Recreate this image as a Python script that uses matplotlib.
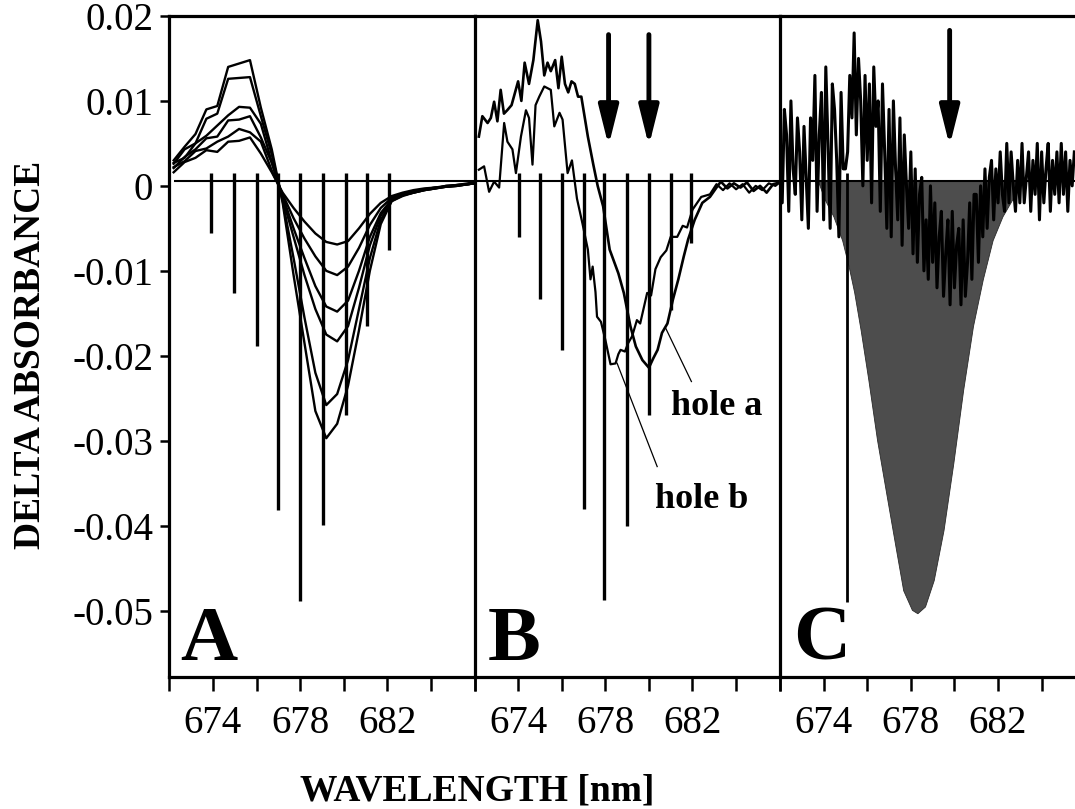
import numpy as np
import matplotlib
matplotlib.use('Agg')
import matplotlib.pyplot as plt

plt.rcParams['font.family'] = ['Liberation Serif', 'DejaVu Serif']

# ===== Panel A: hole series (values in 1e-3 absorbance) =====
wl_a = [672.2, 672.7, 673.2, 673.7, 674.2, 674.7, 675.2, 675.7, 676.2, 676.7,
        677.2, 677.7, 678.2, 678.7, 679.2, 679.7, 680.2, 680.7, 681.2, 681.7,
        682.2, 682.7, 683.2, 683.7, 684.2, 684.7, 685.2, 685.7, 686.0]
curve_a1 = [3.0, 4.6, 6.1, 9.0, 9.4, 14.0, 14.4, 14.8, 9.2, 4.3,
            -2.0, -10.5, -18.5, -26.5, -29.7, -28.0, -23.5, -17.0, -10.0, -4.5,
            -1.8, -1.2, -0.8, -0.5, -0.3, 0.0, 0.1, 0.3, 0.4]
curve_a2 = [2.6, 4.3, 5.0, 7.9, 8.5, 12.6, 12.7, 12.8, 8.2, 3.7,
            -1.8, -8.5, -15.5, -22.0, -25.8, -24.5, -20.5, -14.5, -8.5, -4.0,
            -1.8, -1.1, -0.8, -0.5, -0.3, -0.1, 0.1, 0.2, 0.3]
curve_a3 = [2.7, 3.3, 5.0, 5.9, 7.1, 8.3, 9.3, 9.2, 7.3, 2.8,
            -1.5, -6.0, -10.5, -14.5, -17.5, -18.3, -16.5, -12.0, -7.0, -3.5,
            -1.7, -1.1, -0.8, -0.5, -0.3, -0.1, 0.0, 0.2, 0.3]
curve_a4 = [2.1, 3.4, 4.3, 5.6, 5.8, 7.7, 7.8, 8.2, 5.7, 2.7,
            -1.2, -5.0, -8.5, -11.8, -14.2, -14.8, -13.5, -10.0, -6.0, -3.2,
            -1.6, -1.0, -0.7, -0.4, -0.2, -0.1, 0.0, 0.2, 0.3]
curve_a5 = [2.2, 2.9, 4.1, 4.4, 5.2, 5.8, 6.7, 6.3, 5.2, 1.8,
            -1.0, -3.8, -6.2, -8.3, -10.0, -10.5, -9.5, -7.3, -4.6, -2.6,
            -1.4, -0.9, -0.6, -0.4, -0.2, -0.1, 0.0, 0.2, 0.3]
curve_a6 = [1.6, 2.8, 3.3, 4.2, 4.0, 5.2, 5.3, 5.7, 3.8, 1.6,
            -0.8, -2.6, -4.2, -5.6, -6.6, -6.9, -6.5, -5.0, -3.3, -2.0,
            -1.2, -0.8, -0.5, -0.3, -0.2, 0.0, 0.1, 0.2, 0.3]
curves_a = [curve_a1, curve_a2, curve_a3, curve_a4, curve_a5, curve_a6]

spike_wl_a = [673.9, 674.95, 676.0, 676.97, 678.0, 679.05, 680.1, 681.08, 682.06]
spike_depth_a = [-5.5, -12.6, -18.9, -38.1, -48.9, -39.9, -27.0, -16.5, -7.5]

# ===== Panel B: hole a / hole b =====
wl_hole_a = [672.2, 672.36, 672.6, 672.75, 672.9, 673.05, 673.2, 673.35, 673.5, 673.7,
             674.0, 674.15, 674.3, 674.5, 674.7, 674.9, 675.05, 675.2, 675.35, 675.5,
             675.7, 675.85, 676.0, 676.15, 676.3, 676.45, 676.6, 676.75, 676.9, 677.2,
             677.45, 677.65, 677.9, 678.2, 678.6, 678.85, 679.15, 679.4, 679.7, 680.0,
             680.2, 680.4, 680.6, 680.85, 681.1, 681.35, 681.6, 681.8, 682.1, 682.45,
             682.8, 683.1, 683.3, 683.6, 683.9, 684.2, 684.5, 684.8, 685.1, 685.4,
             685.7, 686.0]
val_hole_a = [5.8, 8.2, 7.4, 8.0, 9.9, 7.6, 11.3, 8.5, 8.9, 9.5,
              12.3, 10.0, 14.5, 12.0, 14.8, 19.5, 17.0, 13.0, 14.5, 13.5,
              14.8, 11.5, 15.2, 12.0, 11.0, 12.3, 12.0, 10.5, 10.5, 5.8,
              2.5, 0.0, -2.4, -7.5, -10.3, -12.6, -16.5, -18.9, -20.5, -21.4,
              -20.3, -19.3, -17.3, -16.2, -13.4, -11.0, -8.3, -6.3, -4.0, -2.0,
              -1.3, -0.2, 0.5, -0.3, 0.3, -0.2, 0.4, -0.6, 0.0, -0.8,
              0.2, 0.4]
wl_hole_b = [672.2, 672.44, 672.67, 672.9, 673.13, 673.36, 673.51, 673.74, 673.9, 674.13,
             674.36, 674.5, 674.66, 674.8, 674.97, 675.2, 675.5, 675.66, 675.9, 676.04,
             676.27, 676.47, 676.7, 676.95, 677.2, 677.32, 677.42, 677.55, 677.62, 677.8,
             678.0, 678.24, 678.47, 678.6, 678.7, 678.9, 679.05, 679.23, 679.45, 679.6,
             679.92, 680.1, 680.3, 680.54, 680.8, 681.0, 681.3, 681.55, 681.75, 682.0,
             682.4, 682.8, 683.1, 683.4, 683.7, 684.0, 684.3, 684.6, 684.9, 685.2,
             685.5, 685.8, 686.0]
val_hole_b = [1.9, 2.3, -0.7, 0.5, -0.2, 7.4, 5.2, 4.3, 1.5, 5.8,
              8.9, 8.0, 2.5, 9.5, 10.5, 11.7, 11.3, 7.0, 8.6, 7.8,
              1.5, 3.0, -1.5, -4.4, -7.5, -11.0, -9.5, -12.5, -15.4, -16.0,
              -18.1, -21.0, -20.9, -19.8, -19.3, -19.5, -18.5, -17.7, -15.8, -16.2,
              -12.6, -12.9, -9.8, -8.4, -7.6, -6.0, -6.0, -4.7, -4.9, -2.8,
              -1.3, -1.0, 0.2, -0.5, 0.3, -0.4, 0.2, -0.8, 0.0, -0.5,
              0.3, 0.0, 0.4]

spike_wl_b = [674.05, 675.0, 676.0, 677.0, 677.95, 679.0, 680.0, 681.0, 681.95]
spike_depth_b = [-6.0, -13.3, -19.3, -38.0, -48.7, -40.0, -27.0, -14.6, -6.7]
arrow_wl_b = [678.15, 680.0]

# ===== Panel C: fitted hole (filled) + noisy measured hole =====
wl_c_fill = [673.75, 674.05, 674.45, 674.85, 675.15, 675.4, 675.7, 676.05, 676.45, 676.9,
             677.3, 677.65, 678.05, 678.3, 678.65, 679.05, 679.5, 679.95, 680.4, 680.85,
             681.3, 681.75, 682.2, 682.65, 682.95]
val_c_fill = [0.5, -1.6, -3.6, -6.4, -9.5, -12.5, -17.0, -22.8, -29.9, -36.6,
              -42.5, -47.6, -49.9, -50.3, -49.5, -46.4, -40.5, -32.6, -24.0, -16.5,
              -11.0, -6.4, -3.6, -1.6, 0.5]
wl_c_noise = np.linspace(672.0, 685.5, 136)
val_c_noise = [4, -2, 9, 6, -3, 10, 2, -1, 8, 4,
               -4, 7, 1, -5, 8, 3, 13, -3, 6, 11,
               -4, 14, 5, -5, 12, 9, 3, -6, 11, 2,
               2, 4, 13, 8, 18, 6, 15, 10, 0, 13,
               3, 12, -2, 14, 7, 10, -3, 12, 4, -5,
               9, -6, 10, 2, -4, 8, -7, 6, 0, -5,
               4, -8, 2, -9, -1, 1, -10, -4, -11, 0,
               -9, -2, -12, -6, -3, -13, -8, -4, -14, -3,
               -12, -7, -5, -14, -4, -13, -9, -2, -11, -1,
               -1, -9, 0, -6, 2, -5, 1, 3, -4, 2,
               -2, 4, -1, -3, 5, -2, 4, 0, -3, 3,
               -2, 5, -2, 1, 4, -3, 3, -1, 5, -4,
               4, -2, 2, 5, -3, 3, -1, 4, -2, 5,
               -1, 4, -3, 3, 0, 4]
spike_wl_c = [675.05]
spike_depth_c = [-49.0]
arrow_wl_c = [679.78]

baseline = 0.0006
xticks = [672, 674, 676, 678, 680, 682, 684, 686]
xticklabels = ['', '674', '', '678', '', '682', '', '']
yticks = [-0.05, -0.04, -0.03, -0.02, -0.01, 0.0, 0.01, 0.02]
yticklabels = ['-0.05', '-0.04', '-0.03', '-0.02', '-0.01', '0', '0.01', '0.02']

# ===== Plot =====
fig = plt.figure(figsize=(10.75, 8.09), dpi=100)
ax_a = fig.add_axes([0.1575, 0.1632, 0.2839, 0.8171])
ax_b = fig.add_axes([0.4414, 0.1632, 0.2839, 0.8171])
ax_c = fig.add_axes([0.7256, 0.1632, 0.2744, 0.8171])
axes = [ax_a, ax_b, ax_c]

for ax in axes:
    ax.set_ylim(-0.0578, 0.02)
    ax.set_xticks(xticks)
    ax.set_xticklabels(xticklabels)
    ax.tick_params(axis='x', direction='out', length=10, width=1.8,
                   labelsize=28, pad=10)
    ax.spines['right'].set_visible(False)
    for s in ['left', 'top', 'bottom']:
        ax.spines[s].set_linewidth(2.3)
    ax.set_yticks(yticks)
ax_a.set_xlim(672, 686)
ax_b.set_xlim(672, 686)
ax_c.set_xlim(672, 685.53)

ax_a.set_yticklabels(yticklabels)
ax_a.tick_params(axis='y', direction='out', length=6.5, width=1.8,
                 labelsize=28, pad=5)
for ax in [ax_b, ax_c]:
    ax.tick_params(axis='y', left=False, labelleft=False)

# panel A
ax = ax_a
ax.hlines(baseline, 672.2, 686, color='black', lw=1.5)
for cv in curves_a:
    ax.plot(wl_a, np.array(cv) * 1e-3, color='black', lw=1.7)
ax.vlines(spike_wl_a, 0.0015, np.array(spike_depth_a) * 1e-3, color='black', lw=2.4)
ax.text(0.035, 0.026, 'A', transform=ax.transAxes, fontsize=57,
        fontweight='bold', va='baseline', ha='left')

# panel B
ax = ax_b
ax.hlines(baseline, 672.1, 686, color='black', lw=1.5)
ax.plot(wl_hole_a, np.array(val_hole_a) * 1e-3, color='black', lw=1.9)
ax.plot(wl_hole_b, np.array(val_hole_b) * 1e-3, color='black', lw=1.6)
ax.vlines(spike_wl_b, 0.0015, np.array(spike_depth_b) * 1e-3, color='black', lw=2.4)
for xw in arrow_wl_b:
    ax.annotate('', xy=(xw, 0.0047), xytext=(xw, 0.0178),
                arrowprops=dict(arrowstyle='-|>,head_length=1.2,head_width=0.3',
                                mutation_scale=20, lw=3.5, color='black',
                                shrinkA=0, shrinkB=0))
ax.plot([680.77, 681.95], [-0.01675, -0.02303], color='black', lw=0.9)
ax.plot([678.54, 680.38], [-0.02087, -0.03304], color='black', lw=0.9)
ax.text(681.0, -0.02695, 'hole a', fontsize=26, fontweight='bold', va='baseline')
ax.text(680.3, -0.0379, 'hole b', fontsize=26, fontweight='bold', va='baseline')
ax.text(0.044, 0.026, 'B', transform=ax.transAxes, fontsize=57,
        fontweight='bold', va='baseline', ha='left')

# panel C
ax = ax_c
ax.fill_between(wl_c_fill, np.array(val_c_fill) * 1e-3, baseline,
                facecolor='#4d4d4d', edgecolor='#2a2a2a', lw=0.6)
ax.plot(wl_c_noise, np.array(val_c_noise) * 1e-3, color='black', lw=2.2)
ax.hlines(baseline, 672, 685.53, color='black', lw=1.5)
ax.vlines(spike_wl_c, 0.0015, np.array(spike_depth_c) * 1e-3, color='black', lw=2.0)
for xw in arrow_wl_c:
    ax.annotate('', xy=(xw, 0.0047), xytext=(xw, 0.0183),
                arrowprops=dict(arrowstyle='-|>,head_length=1.2,head_width=0.3',
                                mutation_scale=20, lw=3.5, color='black',
                                shrinkA=0, shrinkB=0))
ax.text(0.044, 0.026, 'C', transform=ax.transAxes, fontsize=57,
        fontweight='bold', va='baseline', ha='left')

fig.text(0.028, 0.561, 'DELTA ABSORBANCE', rotation=90, fontsize=27,
         fontweight='bold', ha='center', va='center')
fig.text(0.444, 0.022, 'WAVELENGTH [nm]', fontsize=27, fontweight='bold',
         ha='center', va='center')

fig.savefig('out.png', dpi=100)
